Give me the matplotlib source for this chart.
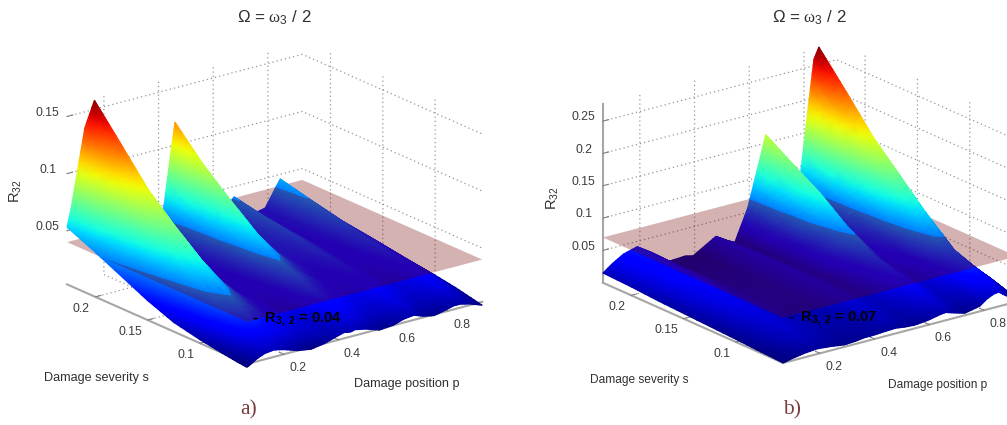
import numpy as np
import matplotlib
matplotlib.use("Agg")
import matplotlib.pyplot as plt
from matplotlib.collections import TriMesh
from matplotlib.colors import Normalize
from matplotlib.tri import Triangulation
from mpl_toolkits.mplot3d.art3d import Poly3DCollection

plt.rcParams['font.family'] = ['Liberation Sans', 'DejaVu Sans']
plt.rcParams['mathtext.fontset'] = 'custom'
plt.rcParams['mathtext.rm'] = 'Liberation Sans'
plt.rcParams['mathtext.bf'] = 'Liberation Sans:bold'
plt.rcParams['mathtext.it'] = 'Liberation Serif'
plt.rcParams['mathtext.default'] = 'rm'

severity = [0.227, 0.20, 0.175, 0.15, 0.125, 0.10, 0.08, 0.065, 0.055]

position_a = [.065, .08, .10, .13, .165, .20, .25, .30, .35, .39, .42, .445, .46,
              .50, .55, .60, .64, .676, .71, .75, .79, .82, .845, .88, .926]
r32_a = [
    [.053, .069, .096, .136, .158, .110, .065, .038, .026, .028, .050, .095, .120, .078, .045, .028, .030, .041, .030, .022, .024, .036, .046, .033, .022],
    [.042, .054, .075, .108, .128, .092, .055, .033, .023, .024, .040, .075, .094, .064, .039, .026, .028, .036, .028, .021, .023, .032, .040, .030, .020],
    [.031, .042, .058, .085, .100, .074, .046, .029, .021, .021, .032, .059, .074, .052, .033, .024, .026, .032, .026, .020, .022, .029, .034, .027, .017],
    [.020, .029, .043, .066, .079, .059, .038, .025, .019, .019, .026, .044, .055, .041, .028, .022, .024, .028, .023, .018, .020, .026, .029, .024, .014],
    [.011, .018, .030, .049, .060, .046, .031, .022, .017, .017, .021, .032, .039, .031, .023, .019, .021, .024, .020, .016, .018, .022, .025, .020, .011],
    [.006, .011, .020, .034, .042, .034, .025, .019, .015, .014, .017, .023, .028, .024, .019, .016, .018, .020, .017, .014, .015, .018, .021, .016, .008],
    [.003, .006, .012, .022, .028, .024, .019, .015, .012, .011, .013, .017, .020, .018, .014, .012, .014, .016, .013, .011, .012, .014, .017, .012, .005],
    [.001, .003, .007, .012, .014, .013, .011, .009, .009, .008, .009, .012, .014, .012, .009, .008, .010, .012, .009, .007, .008, .010, .012, .008, .002],
    [.000, .002, .005, .008, .009, .007, .003, .001, .003, .006, .008, .007, .008, .006, .002, .003, .006, .007, .004, .002, .004, .006, .006, .004, .000],
]
threshold_a = 0.04

position_b = [.065, .10, .14, .19, .24, .29, .33, .365, .394, .43, .478, .51, .547,
              .595, .64, .66, .69, .73, .785, .81, .836, .854, .875, .90, .92]
r32_b = [
    [.015, .026, .036, .042, .028, .006, .007, .008, .005, .014, .026, .017, .009, .058, .130, .163, .110, .048, .080, .170, .260, .277, .200, .120, .070],
    [.013, .024, .033, .038, .026, .010, .010, .010, .009, .016, .026, .020, .012, .050, .110, .135, .092, .042, .068, .140, .212, .225, .165, .100, .060],
    [.010, .021, .030, .034, .024, .013, .012, .012, .012, .018, .026, .020, .014, .044, .092, .110, .077, .036, .056, .112, .165, .175, .130, .082, .050],
    [.008, .018, .026, .030, .022, .014, .013, .013, .013, .019, .025, .021, .015, .036, .066, .078, .058, .030, .046, .086, .126, .135, .100, .064, .040],
    [.006, .014, .022, .026, .020, .014, .013, .013, .013, .018, .024, .020, .015, .028, .045, .052, .040, .025, .036, .062, .088, .095, .072, .048, .030],
    [.004, .011, .018, .022, .017, .013, .012, .012, .012, .016, .021, .018, .014, .022, .034, .040, .030, .020, .028, .042, .055, .058, .046, .032, .022],
    [.002, .008, .014, .018, .014, .011, .010, .010, .010, .013, .018, .015, .012, .017, .025, .028, .022, .015, .021, .032, .042, .045, .036, .026, .018],
    [.001, .005, .010, .013, .010, .008, .007, .008, .008, .010, .013, .011, .009, .012, .017, .020, .016, .010, .015, .024, .030, .032, .025, .018, .010],
    [.000, .003, .006, .008, .006, .003, .004, .006, .006, .007, .008, .006, .005, .007, .011, .012, .008, .003, .008, .016, .021, .022, .015, .008, .003],
]
threshold_b = 0.07

p_ticks = [0.2, 0.4, 0.6, 0.8]
s_ticks = [0.1, 0.15, 0.2]
z_ticks_a = [0.05, 0.1, 0.15]
z_ticks_b = [0.05, 0.1, 0.15, 0.2, 0.25]

W, H = 1007, 425
fig = plt.figure(figsize=(W / 100, H / 100), dpi=100)


def fx(x):
    return x / W


def fy(y):
    return 1 - y / H


def triangles_of(P, S, Z, n=4):
    """Facets of the surface, each cut into n*n pieces so colours follow the colormap."""
    out = []
    for i in range(len(S) - 1):
        for j in range(len(P) - 1):
            a = (P[j], S[i], Z[i][j])
            b = (P[j + 1], S[i], Z[i][j + 1])
            c = (P[j + 1], S[i + 1], Z[i + 1][j + 1])
            d = (P[j], S[i + 1], Z[i + 1][j])
            for A, B, C in ((a, b, c), (a, c, d)):
                A, B, C = np.array(A), np.array(B), np.array(C)
                e1, e2 = (B - A) / n, (C - A) / n
                for u in range(n):
                    for v in range(n - u):
                        o = A + u * e1 + v * e2
                        out.append((o, o + e1, o + e2))
                        if u + v < n - 1:
                            out.append((o + e1, o + e1 + e2, o + e2))
    return np.array(out)


def split_at(tris, level):
    below, above = [], []
    for t in tris:
        up = t[:, 2] >= level
        if up.all():
            above.append(t)
        elif not up.any():
            below.append(t)
        else:
            for keep, dest in ((up, above), (~up, below)):
                poly = []
                for k in range(3):
                    p, q = t[k], t[(k + 1) % 3]
                    kp, kq = keep[k], keep[(k + 1) % 3]
                    if kp:
                        poly.append(p)
                    if kp != kq:
                        poly.append(p + (level - p[2]) / (q[2] - p[2]) * (q - p))
                for k in range(1, len(poly) - 1):
                    dest.append(np.array((poly[0], poly[k], poly[k + 1])))
    return np.array(below), np.array(above)


def add_mesh(ax, tris, norm, zorder):
    M = ax.get_proj()
    pts = np.concatenate([tris.reshape(-1, 3), np.ones((tris.size // 3, 1))], axis=1)
    h = pts @ M.T
    xy = h[:, :3] / h[:, 3:]
    depth = xy[:, 2].reshape(-1, 3).mean(axis=1)
    order = np.argsort(-depth)
    idx = np.arange(xy.shape[0]).reshape(-1, 3)[order]
    mesh = TriMesh(Triangulation(xy[:, 0], xy[:, 1], idx), cmap='jet', norm=norm)
    mesh.set_array(tris[:, :, 2].ravel())
    mesh.set_zorder(zorder)
    mesh.set_clip_on(False)
    mesh.do_3d_projection = lambda: 0
    ax.add_collection(mesh, autolim=False)


def panel(P, S, Z, level, zlim, zticks, elev, azim, aspect, front, right, zline):
    ax = fig.add_axes([0.1, 0.1, 0.397, 0.94], projection='3d', computed_zorder=False)
    ax.set_proj_type('ortho')
    ax.patch.set_alpha(0)
    ax.set_xlim(P[0], P[-1])
    ax.set_ylim(S[-1], S[0])
    ax.set_zlim(*zlim)
    ax.view_init(elev=elev, azim=azim)
    ax.set_xticks(p_ticks)
    ax.set_yticks(s_ticks)
    ax.set_zticks(zticks)
    ax.set_xticklabels([f'{v:g}' for v in p_ticks], ha='left')
    ax.set_yticklabels([f'{v:g}' for v in s_ticks], ha='right')
    ax.set_zticklabels([f'{v:g}' for v in zticks], va='baseline')
    for axis, line in ((ax.xaxis, True), (ax.yaxis, True), (ax.zaxis, zline)):
        axis.set_pane_color((1, 1, 1, 0))
        axis.pane.set_edgecolor((1, 1, 1, 0))
        axis._axinfo['grid'].update(color='#969696', linewidth=0.9, linestyle=(0, (1, 2.4)))
        axis._axinfo['tick'].update(inward_factor=0.0, outward_factor=0.3)
        axis.line.set_color('#a6a6a6' if line else (1, 1, 1, 0))
        axis.line.set_linewidth(1.5)
    ax.tick_params(axis='x', color='#808080', width=1.0, labelcolor='#3c3c3c', labelsize=8.8, pad=-3.5)
    ax.tick_params(axis='y', color='#808080', width=1.0, labelcolor='#3c3c3c', labelsize=8.8, pad=-4.5)
    ax.tick_params(axis='z', color='#808080', width=1.0, labelcolor='#3c3c3c', labelsize=8.8, pad=-1)

    # place the box on the page
    zoom = 1.0
    ax.set_box_aspect(aspect, zoom=zoom)

    def corner(xx, yy, zz):
        v = ax.get_proj() @ np.array([xx, yy, zz, 1.0])
        return ax.transData.transform((v[0] / v[3], v[1] / v[3]))

    fig.canvas.draw()
    a, b = corner(P[0], S[-1], zlim[0]), corner(P[-1], S[-1], zlim[0])
    zoom *= np.hypot(right[0] - front[0], right[1] - front[1]) / np.hypot(*(b - a))
    ax.set_box_aspect(aspect, zoom=zoom)
    fig.canvas.draw()
    a = corner(P[0], S[-1], zlim[0])
    pos = ax.get_position(original=True)
    ax.set_position([pos.x0 + (front[0] - a[0]) / W,
                     pos.y0 + ((H - front[1]) - a[1]) / H,
                     pos.width, pos.height])
    fig.canvas.draw()

    norm = Normalize(0, np.max(Z))
    below, above = split_at(triangles_of(P, S, Z), level)
    add_mesh(ax, below, norm, 1)
    plane = Poly3DCollection([[(P[0], S[0], level), (P[-1], S[0], level),
                               (P[-1], S[-1], level), (P[0], S[-1], level)]],
                             facecolors=[(0.46, 0.0, 0.0, 0.30)], edgecolors='none', zorder=2)
    plane.set_clip_on(False)
    ax.add_collection3d(plane)
    add_mesh(ax, above, norm, 3)
    return ax


panel(position_a, severity, r32_a, threshold_a, (0.003, 0.162), z_ticks_a,
      20.0, -127.7, (297, 294, 193), (247, 364), (482, 301), False)
panel(position_b, severity, r32_b, threshold_b, (0.0, 0.276), z_ticks_b,
      20.0, -127.5, (295, 296, 190), (783, 363), (1017, 302), True)

title = r'$\mathit{\Omega}$ = $\mathit{\omega}_{3}$ / 2'
txt = dict(color='#303030')
fig.text(fx(274), fy(18), title, fontsize=12.2, ha='center', va='center', **txt)
fig.text(fx(809), fy(18), title, fontsize=12.2, ha='center', va='center', **txt)
fig.text(fx(16), fy(191), r'R$_{32}$', fontsize=10.5, rotation=90, ha='center', va='center', **txt)
fig.text(fx(553), fy(198), r'R$_{32}$', fontsize=10.5, rotation=90, ha='center', va='center', **txt)
fig.text(fx(96), fy(378), 'Damage severity s', fontsize=9.1, ha='center', va='center', **txt)
fig.text(fx(407), fy(384), 'Damage position p', fontsize=9.1, ha='center', va='center', **txt)
fig.text(fx(639), fy(380), 'Damage severity s', fontsize=8.6, ha='center', va='center', **txt)
fig.text(fx(938), fy(385), 'Damage position p', fontsize=8.6, ha='center', va='center', **txt)
fig.text(fx(252), fy(319), r'-  $\mathbf{R_{3,\ 2}}$ = 0.04', fontsize=10.5, fontweight='bold', color='black', ha='left', va='center', zorder=10)
fig.text(fx(788), fy(318), r'-  $\mathbf{R_{3,\ 2}}$ = 0.07', fontsize=10.5, fontweight='bold', color='black', ha='left', va='center', zorder=10)
for x, s in ((249, 'a)'), (792, 'b)')):
    fig.text(fx(x), fy(410), s, family='Liberation Serif', fontsize=15.5, color='#7a3b3b', ha='center', va='center')

fig.savefig('out.png', dpi=100)
